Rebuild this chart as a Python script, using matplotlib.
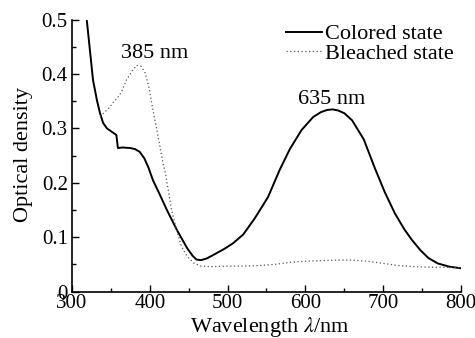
import matplotlib
matplotlib.use("Agg")
import matplotlib.pyplot as plt
from matplotlib.ticker import MultipleLocator, FuncFormatter

plt.rcParams['font.family'] = ['Liberation Serif', 'DejaVu Serif']
plt.rcParams['mathtext.fontset'] = 'stix'

colored_x = [319, 323, 327, 332, 336, 340, 345, 351, 357, 359, 365, 375, 381, 387, 393, 398, 404, 413, 422,
             435, 448, 455, 460, 466, 473, 481, 495, 507, 520, 535, 552, 567, 580, 595, 610, 620, 628, 635,
             642, 650, 660, 675, 689, 702, 715, 727, 737, 748, 758, 770, 785, 800]
colored_y = [0.499, 0.444, 0.389, 0.352, 0.328, 0.31, 0.300, 0.294, 0.288, 0.264, 0.265, 0.264, 0.262, 0.257,
             0.245, 0.229, 0.205, 0.178, 0.150, 0.113, 0.080, 0.066, 0.059, 0.058, 0.061, 0.067, 0.078,
             0.089, 0.105, 0.135, 0.174, 0.224, 0.262, 0.297, 0.321, 0.330, 0.334, 0.335, 0.333, 0.328,
             0.315, 0.28, 0.228, 0.183, 0.144, 0.115, 0.095, 0.076, 0.062, 0.052, 0.046, 0.043]

bleached_x = [336, 342, 349, 354, 358, 364, 370, 377, 383, 389, 394, 399, 404, 410, 417, 420, 428, 435, 441,
              448, 456, 466, 480, 500, 520, 540, 560, 580, 600, 620, 640, 660, 680, 700, 720, 740, 760, 780, 800]
bleached_y = [0.322, 0.33, 0.340, 0.350, 0.355, 0.368, 0.389, 0.405, 0.416, 0.414, 0.402, 0.375, 0.334, 0.29,
              0.236, 0.218, 0.150, 0.11, 0.082, 0.065, 0.053, 0.047, 0.046, 0.047, 0.047, 0.048, 0.050,
              0.054, 0.056, 0.057, 0.058, 0.058, 0.056, 0.052, 0.048, 0.046, 0.045, 0.045, 0.044]

peak_labels = ["385 nm", "635 nm"]
peak_pos = [(406, 0.429), (634, 0.345)]
series_names = ["Colored state", "Bleached state"]

fig = plt.figure(figsize=(4.75, 3.38), dpi=100)
ax = fig.add_axes([0.1516, 0.137, 0.8189, 0.805])

ax.plot(colored_x, colored_y, color='black', lw=1.4, label=series_names[0])
ax.plot(bleached_x, bleached_y, color='#555555', lw=0.9, ls=(0, (1, 2)), label=series_names[1])

ax.set_xlim(300, 800)
ax.set_ylim(0, 0.5)
ax.xaxis.set_major_locator(MultipleLocator(100))
ax.xaxis.set_minor_locator(MultipleLocator(50))
ax.yaxis.set_major_locator(MultipleLocator(0.1))
ax.yaxis.set_minor_locator(MultipleLocator(0.05))
ax.yaxis.set_major_formatter(FuncFormatter(lambda v, p: "0" if abs(v) < 1e-9 else f"{v:.1f}"))
ax.tick_params(which='both', direction='in', labelsize=15, width=1)
ax.tick_params(axis='x', pad=2)
ax.tick_params(axis='y', pad=3)
ax.tick_params(which='major', length=5)
ax.tick_params(which='minor', length=3)
for s in ['top', 'right']:
    ax.spines[s].set_visible(False)
for s in ['left', 'bottom']:
    ax.spines[s].set_linewidth(1.2)

ax.set_xlabel(r"Wavelength $\mathit{\lambda}$/nm", fontsize=16)
ax.xaxis.set_label_coords(0.509, -0.087)
ax.set_ylabel("Optical density", fontsize=16)
ax.yaxis.set_label_coords(-0.10, 0.506)

for t, (x, y) in zip(peak_labels, peak_pos):
    ax.text(x, y, t, ha='center', va='baseline', fontsize=16)

leg = ax.legend(loc='upper right', bbox_to_anchor=(1.005, 1.017), frameon=False, fontsize=16,
                handlelength=1.6, handletextpad=0.15, labelspacing=-0.05, borderaxespad=0)

fig.savefig("out.png", dpi=100)
